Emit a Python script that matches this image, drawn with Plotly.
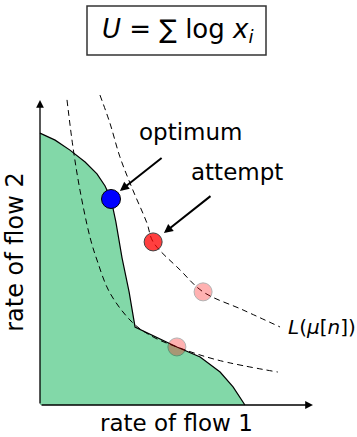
import plotly.graph_objects as go

# ---- data (rate units) ----
region_x = [0.0, 0.56, 1.11, 1.67, 2.11, 2.41, 2.63, 2.81, 3.04, 3.30, 3.52, 5.07, 5.93, 6.67, 7.15, 7.41, 7.59]
region_y = [10.07, 9.81, 9.44, 9.0, 8.56, 8.11, 7.63, 6.78, 5.44, 4.19, 2.89, 2.15, 1.78, 1.22, 0.67, 0.30, 0.0]

inner_x = [1.0, 1.22, 1.48, 1.85, 2.11, 2.59, 3.44, 4.19, 5.07, 6.56, 8.81]
inner_y = [11.3, 9.56, 7.96, 6.22, 5.37, 4.15, 3.04, 2.52, 2.15, 1.67, 1.22]

outer_x = [2.22, 2.59, 2.96, 3.44, 3.96, 4.19, 5.19, 6.04, 7.52, 8.89]
outer_y = [11.48, 10.44, 9.19, 7.96, 6.74, 6.04, 5.0, 4.19, 3.52, 2.89]

optimum = (2.63, 7.63)
attempt = (4.19, 6.04)
faded_x = [6.04, 5.07]
faded_y = [4.19, 2.15]

x_axis_end = 10.11
y_axis_end = 11.3

title_text = "<i>U</i> = ∑ log <i>x<sub>i</sub></i>"
x_label = "rate of flow 1"
y_label = "rate of flow 2"
curve_label = "<i>L</i>(<i>μ</i>[<i>n</i>])"

FONT = "DejaVu Sans"
GREEN = "rgb(130,216,168)"

fig = go.Figure()

# feasible region
fig.add_trace(go.Scatter(
    x=[0.0] + region_x + [0.0], y=[0.0] + region_y + [0.0],
    fill="toself", fillcolor=GREEN, mode="lines",
    line=dict(width=0), hoverinfo="skip", showlegend=False))

# level curves
for cx, cy in [(inner_x, inner_y), (outer_x, outer_y)]:
    fig.add_trace(go.Scatter(
        x=cx, y=cy, mode="lines",
        line=dict(color="black", width=1, dash="6px,4px", shape="spline"),
        hoverinfo="skip", showlegend=False))

# boundary
fig.add_trace(go.Scatter(
    x=region_x, y=region_y, mode="lines",
    line=dict(color="black", width=1.2),
    hoverinfo="skip", showlegend=False))

# faded points
fig.add_trace(go.Scatter(
    x=faded_x, y=faded_y, mode="markers",
    marker=dict(size=18, color="red", opacity=0.3, line=dict(color="black", width=1)),
    hoverinfo="skip", showlegend=False))

# attempt
fig.add_trace(go.Scatter(
    x=[attempt[0]], y=[attempt[1]], mode="markers",
    marker=dict(size=18, color="red", opacity=0.75, line=dict(color="black", width=1)),
    hoverinfo="skip", showlegend=False))

# optimum
fig.add_trace(go.Scatter(
    x=[optimum[0]], y=[optimum[1]], mode="markers",
    marker=dict(size=19, color="blue", line=dict(color="black", width=1)),
    hoverinfo="skip", showlegend=False))

annotations = []
# axes arrows
annotations.append(dict(x=x_axis_end, y=0, ax=0, ay=0, xref="x", yref="y", axref="x", ayref="y",
                        text="", showarrow=True, arrowhead=2, arrowsize=1.2, arrowwidth=1.3,
                        arrowcolor="black", standoff=0, startstandoff=0))
annotations.append(dict(x=0, y=y_axis_end, ax=0, ay=0, xref="x", yref="y", axref="x", ayref="y",
                        text="", showarrow=True, arrowhead=2, arrowsize=1.2, arrowwidth=1.3,
                        arrowcolor="black", standoff=0, startstandoff=0))
# pointer arrows
annotations.append(dict(x=2.96, y=7.93, ax=4.56, ay=9.19, xref="x", yref="y", axref="x", ayref="y",
                        text="", showarrow=True, arrowhead=2, arrowsize=0.9, arrowwidth=2,
                        arrowcolor="black", standoff=0))
annotations.append(dict(x=4.59, y=6.37, ax=6.37, ay=7.78, xref="x", yref="y", axref="x", ayref="y",
                        text="", showarrow=True, arrowhead=2, arrowsize=0.9, arrowwidth=2,
                        arrowcolor="black", standoff=0))
# labels
annotations.append(dict(x=5.56, y=10.11, xref="x", yref="y", text="optimum", showarrow=False,
                        xanchor="center", yanchor="middle",
                        font=dict(family=FONT, size=23, color="black")))
annotations.append(dict(x=7.30, y=8.63, xref="x", yref="y", text="attempt", showarrow=False,
                        xanchor="center", yanchor="middle",
                        font=dict(family=FONT, size=23, color="black")))
annotations.append(dict(x=10.44, y=2.89, xref="x", yref="y", text=curve_label, showarrow=False,
                        xanchor="center", yanchor="middle",
                        font=dict(family=FONT, size=20, color="black")))
annotations.append(dict(x=5.07, y=-0.68, xref="x", yref="y", text=x_label, showarrow=False,
                        xanchor="center", yanchor="middle",
                        font=dict(family=FONT, size=23, color="black")))
annotations.append(dict(x=-0.93, y=5.67, xref="x", yref="y", text=y_label, showarrow=False,
                        xanchor="center", yanchor="middle",
                        textangle=-90, font=dict(family=FONT, size=24, color="black")))
# title
annotations.append(dict(x=177.5 / 357, y=1 - 31 / 437, xref="paper", yref="paper", text=title_text,
                        showarrow=False, xanchor="center", yanchor="middle",
                        font=dict(family=FONT, size=26, color="black")))

fig.update_layout(
    width=357, height=437, margin=dict(l=0, r=0, t=0, b=0),
    paper_bgcolor="white", plot_bgcolor="white",
    xaxis=dict(range=[-40 / 27, 317 / 27], visible=False, fixedrange=True),
    yaxis=dict(range=[-32 / 27, 405 / 27], visible=False, fixedrange=True),
    annotations=annotations,
    shapes=[dict(type="rect", xref="paper", yref="paper",
                 x0=87 / 357, x1=266 / 357, y0=1 - 55 / 437, y1=1 - 6 / 437,
                 line=dict(color="#333333", width=1.5))],
    showlegend=False,
)

fig.write_html("out.html")
